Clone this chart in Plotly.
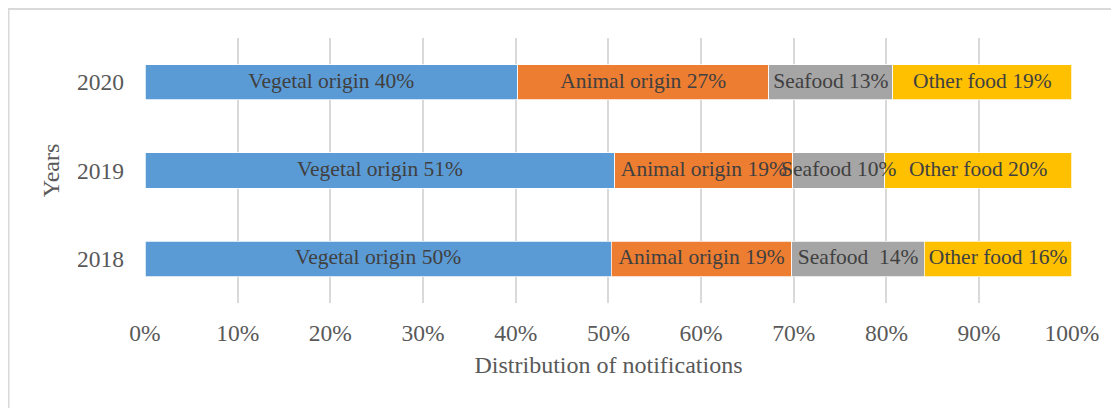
import plotly.graph_objects as go

years = ["2018", "2019", "2020"]
series_names = ["Vegetal origin", "Animal origin", "Seafood", "Other food"]
vegetal = [50.3, 50.7, 40.2]
animal = [19.5, 19.2, 27.1]
seafood = [14.3, 9.9, 13.4]
other = [15.9, 20.2, 19.3]
labels_vegetal = ["Vegetal origin 50%", "Vegetal origin 51%", "Vegetal origin 40%"]
labels_animal = ["Animal origin 19%", "Animal origin 19%", "Animal origin 27%"]
labels_seafood = ["Seafood  14%", "Seafood 10%", "Seafood 13%"]
labels_other = ["Other food 16%", "Other food 20%", "Other food 19%"]
tick_vals = [0, 10, 20, 30, 40, 50, 60, 70, 80, 90, 100]
tick_text = [f"{v}%" for v in tick_vals]

colors = ["#5B9BD5", "#ED7D31", "#A5A5A5", "#FFC000"]
FONT = "Liberation Serif, Times New Roman, serif"

series = [vegetal, animal, seafood, other]
labels = [labels_vegetal, labels_animal, labels_seafood, labels_other]

fig = go.Figure()
for name, vals, col in zip(series_names, series, colors):
    fig.add_trace(go.Bar(
        y=years, x=vals, name=name, orientation="h",
        marker=dict(color=col, line=dict(color="white", width=0.75)),
        width=0.4, hoverinfo="x+name",
    ))

# data labels drawn on top of all bars, at each segment's midpoint
cum = [0.0] * len(years)
for name, vals, labs in zip(series_names, series, labels):
    mids = [c + v / 2 for c, v in zip(cum, vals)]
    cum = [c + v for c, v in zip(cum, vals)]
    fig.add_trace(go.Scatter(
        y=years, x=mids, mode="text", text=labs, name=name,
        textposition="middle center", cliponaxis=False, hoverinfo="skip",
        textfont=dict(family=FONT, size=21.5, color="#404040"),
    ))

W, H = 1111, 400
L, R, T, B = 137, 47, 30, 105
pw, ph = W - L - R, H - T - B

fig.update_layout(
    barmode="stack",
    width=W, height=H,
    margin=dict(l=L, r=R, t=T, b=B),
    paper_bgcolor="white", plot_bgcolor="white",
    showlegend=False,
    font=dict(family=FONT, color="#595959"),
    xaxis=dict(range=[0, 100.02], tickvals=tick_vals, ticktext=tick_text,
               showgrid=True, gridcolor="#D9D9D9", gridwidth=1.5,
               zeroline=False, showline=False,
               tickfont=dict(family=FONT, size=23.5, color="#595959"),
               ticklabelstandoff=13,
               title=dict(text="Distribution of notifications",
                          font=dict(family=FONT, size=24, color="#595959"),
                          standoff=11)),
    yaxis=dict(categoryorder="array", categoryarray=years, range=[-0.5, 2.5],
               showgrid=False, zeroline=False, showline=False,
               tickfont=dict(family=FONT, size=23.5, color="#595959"),
               ticklabelstandoff=20,
               title=dict(text="Years",
                          font=dict(family=FONT, size=24, color="#595959"),
                          standoff=10)),
    shapes=[dict(type="rect", xref="paper", yref="paper",
                 x0=(0.5 - L) / pw, x1=(W + 20 - L) / pw,
                 y0=-(B + 20) / ph, y1=(ph + T - 1) / ph,
                 line=dict(color="#D9D9D9", width=2), fillcolor="rgba(0,0,0,0)",
                 layer="below")],
)

fig.write_html("out.html")
